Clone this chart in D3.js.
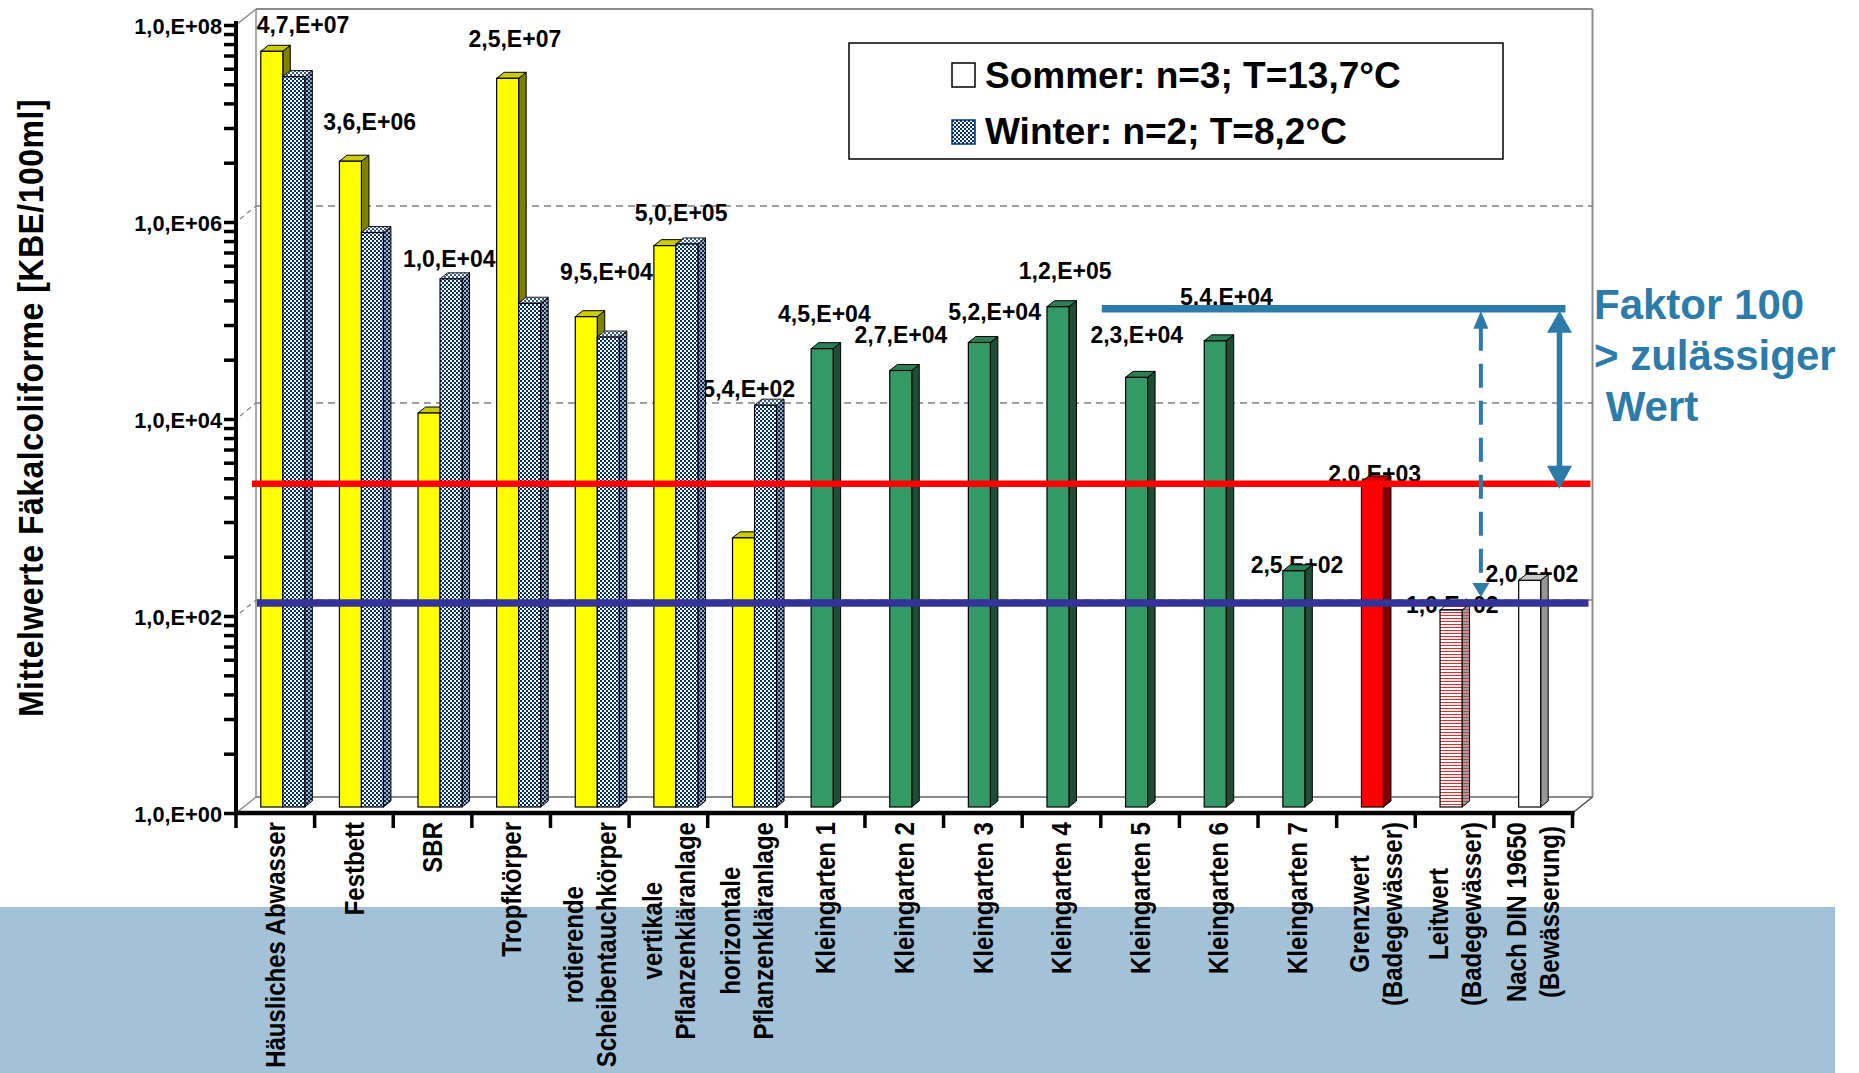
<!DOCTYPE html>
<html><head><meta charset="utf-8">
<script src="https://cdn.jsdelivr.net/npm/d3@7"></script>
<style>
body{margin:0;background:#fff;}
svg{display:block;font-family:"Liberation Sans",Arial,sans-serif;font-weight:bold;}
</style>
</head><body>
<svg id="c" width="1859" height="1073"></svg>
<script>
// ---------------- DATA ----------------
const categories = [
  "Häusliches Abwasser", "Festbett", "SBR", "Tropfkörper",
  "rotierende\nScheibentauchkörper", "vertikale\nPflanzenkläranlage", "horizontale\nPflanzenkläranlage",
  "Kleingarten 1", "Kleingarten 2", "Kleingarten 3", "Kleingarten 4", "Kleingarten 5", "Kleingarten 6", "Kleingarten 7",
  "Grenzwert\n(Badegewässer)", "Leitwert\n(Badegewässer)", "Nach DIN 19650\n(Bewässerung)"
];
const sommer = [4.7e7, 3.6e6, 1.0e4, 2.5e7, 9.5e4, 5.0e5, 5.4e2,
                4.5e4, 2.7e4, 5.2e4, 1.2e5, 2.3e4, 5.4e4, 2.5e2,
                2.0e3, 1.0e2, 2.0e2];
const winter = [2.6e7, 6.8e5, 2.3e5, 1.3e5, 5.9e4, 5.2e5, 1.2e4,
                null, null, null, null, null, null, null, null, null, null];
const seriesNames = ["Sommer: n=3; T=13,7°C", "Winter: n=2; T=8,2°C"];
const yTickValues = [1, 1e2, 1e4, 1e6, 1e8];
const yTickLabels = ["1,0,E+00", "1,0,E+02", "1,0,E+04", "1,0,E+06", "1,0,E+08"];
const grenzwert = 2.0e3;
const leitwert = 1.0e2;
const yTitle = "Mittelwerte Fäkalcoliforme [KBE/100ml]";
const noteLines = ["Faktor 100", "> zulässiger", " Wert"];

// ---------------- STYLE / LAYOUT ----------------
const pointStyle = ["yel","yel","yel","yel","yel","yel","yel",
                    "grn","grn","grn","grn","grn","grn","grn","red","stripe","white"];
const styles = {
  yel:   {front:"#FFFF00", top:"#CCCC00", side:"#808000"},
  grn:   {front:"#339966", top:"#2A7F55", side:"#1E4D34"},
  red:   {front:"#FF0000", top:"#CC0000", side:"#800000"},
  stripe:{front:"url(#stripe)", top:"url(#stripe)", side:"url(#stripeSide)"},
  white: {front:"#FFFFFF", top:"#C8C8C8", side:"#969696"},
  chk:   {front:"url(#chk)", top:"url(#chk)", side:"url(#chk)"}
};
// label nudges (px) relative to the generic anchor
const labelNudge = [[20,7],[8,-6],[9,13],[-4,-6],[9,-12],[5,2],[-6,17],
                    [-9,-2],[-11,-3],[4,3],[-4,-3],[-11,-9],[0,-11],[-8,27],[-9,25],[-10,28],[-9,27]];

const W = 1859, H = 1073;
const X0 = 236, X1 = 1572.5, YB = 813, YT = 25;
const DX = 20, DY = 16;        // depth of the floor
const BX = 7.5, BY = 6;        // bar front-plane offset and bar depth
const blue = "#2B7BAB";
const navy = "#00307A";

const svg = d3.select("#c");
const defs = svg.append("defs");
const chk = defs.append("pattern").attr("id","chk").attr("width",4).attr("height",4).attr("patternUnits","userSpaceOnUse");
chk.append("rect").attr("width",4).attr("height",4).attr("fill","#fff");
chk.append("rect").attr("width",2).attr("height",2).attr("fill",navy);
chk.append("rect").attr("x",2).attr("y",2).attr("width",2).attr("height",2).attr("fill",navy);
const st = defs.append("pattern").attr("id","stripe").attr("width",4).attr("height",3).attr("patternUnits","userSpaceOnUse");
st.append("rect").attr("width",4).attr("height",3).attr("fill","#fff");
st.append("rect").attr("width",4).attr("height",1).attr("fill","#FF2020");
const st2 = defs.append("pattern").attr("id","stripeSide").attr("width",4).attr("height",3).attr("patternUnits","userSpaceOnUse");
st2.append("rect").attr("width",4).attr("height",3).attr("fill","#A0A0A0");
st2.append("rect").attr("width",4).attr("height",1).attr("fill","#C04040");

// background band
svg.append("rect").attr("x",0).attr("y",907).attr("width",1835).attr("height",H-907).attr("fill","#A3C1D7");

// scales
const x = d3.scaleBand().domain(categories).range([X0, X1]).padding(0);
const xs = d3.scaleBand().domain(["S","W"]).range([0, x.bandwidth()]).paddingInner(0).paddingOuter(0.786);
const y = d3.scaleLog().domain([1, 1e8]).range([YB, YT]);
const yBar = v => y(v) - BY;
const yBack = v => y(v) - DY;

// ---------------- WALLS / GRID ----------------
const wall = svg.append("g").attr("fill","none");
const grey = "#8C8C8C";
wall.append("line").attr("x1",X0+DX).attr("x2",X1+DX).attr("y1",yBack(1e8)).attr("y2",yBack(1e8)).attr("stroke",grey).attr("stroke-width",2);
wall.append("line").attr("x1",X0+DX).attr("x2",X0+DX).attr("y1",yBack(1e8)).attr("y2",yBack(1)).attr("stroke",grey).attr("stroke-width",1.5);
wall.append("line").attr("x1",X1+DX).attr("x2",X1+DX).attr("y1",yBack(1e8)).attr("y2",yBack(1)).attr("stroke",grey).attr("stroke-width",2);
wall.append("line").attr("x1",X0+DX).attr("x2",X1+DX).attr("y1",yBack(1)).attr("y2",yBack(1)).attr("stroke",grey).attr("stroke-width",2);
wall.append("line").attr("x1",X0).attr("y1",y(1e8)).attr("x2",X0+DX).attr("y2",yBack(1e8)).attr("stroke",grey).attr("stroke-width",1.5);
wall.append("line").attr("x1",X0).attr("y1",y(1)).attr("x2",X0+DX).attr("y2",yBack(1)).attr("stroke",grey).attr("stroke-width",1.5);
wall.append("line").attr("x1",X1).attr("y1",y(1)).attr("x2",X1+DX).attr("y2",yBack(1)).attr("stroke","#444").attr("stroke-width",1.5);
[1e2,1e4,1e6].forEach(v=>{
  wall.append("line").attr("x1",X0+DX).attr("x2",X1+DX).attr("y1",yBack(v)).attr("y2",yBack(v))
    .attr("stroke","#808080").attr("stroke-width",1.5).attr("stroke-dasharray","7,5");
  wall.append("line").attr("x1",X0+4).attr("y1",y(v)-3).attr("x2",X0+DX).attr("y2",yBack(v))
    .attr("stroke","#808080").attr("stroke-width",1.2).attr("stroke-dasharray","5,4");
});

// ---------------- helpers ----------------
function fmt(v){
  const e = Math.floor(Math.log10(v) + 1e-9);
  const m = v / Math.pow(10, e);
  return m.toFixed(1).replace(".", ",") + ",E+" + String(e).padStart(2, "0");
}
function stext(parent, tx, ty, str, size, sx, anchor, base){
  return parent.append("text")
    .attr("transform", `translate(${tx},${ty}) scale(${sx},1)`)
    .attr("font-size", size).attr("text-anchor", anchor||"start")
    .attr("dominant-baseline", base||"auto").text(str);
}
function bar3d(g, bx, w, v, sty){
  const yt = yBar(v), yb = yBar(1);
  const side = [[bx+w,yt],[bx+w+BX,yt-BY],[bx+w+BX,yb-BY],[bx+w,yb]].join(" ");
  const top = [[bx,yt],[bx+BX,yt-BY],[bx+w+BX,yt-BY],[bx+w,yt]].join(" ");
  g.append("polygon").attr("points", side).attr("fill", sty.side).attr("stroke","#000").attr("stroke-width",1);
  if (sty === styles.chk) g.append("polygon").attr("points", side).attr("fill","#000").attr("opacity",0.3);
  g.append("polygon").attr("points", top).attr("fill", sty.top).attr("stroke","#000").attr("stroke-width",1);
  if (sty === styles.chk) g.append("polygon").attr("points", top).attr("fill","#fff").attr("opacity",0.2);
  g.append("rect").attr("x",bx).attr("y",yt).attr("width",w).attr("height",yb-yt)
    .attr("fill", sty.front).attr("stroke","#000").attr("stroke-width",1.2);
}

// ---------------- DATA LABELS (behind bars) ----------------
const lab = svg.append("g").attr("fill","#000");
categories.forEach((c,i)=>{
  const top = yBar(Math.max(sommer[i], winter[i] || 0));
  const ax = x(c) + 47 + labelNudge[i][0];
  const ay = top - 33 + labelNudge[i][1];
  stext(lab, ax, ay, fmt(sommer[i]), 23, 1.0, "middle", "central");
});

// ---------------- BARS ----------------
const bars = svg.append("g");
categories.forEach((c,i)=>{
  const bw = xs.bandwidth();
  bar3d(bars, x(c) + xs("S") + BX, bw, sommer[i], styles[pointStyle[i]]);
  if (winter[i] != null) bar3d(bars, x(c) + xs("W") + BX, bw, winter[i], styles.chk);
});

// ---------------- AXES ----------------
const minor = [];
[1,1e2,1e4,1e6].forEach(b=>{ for(let k=1;k<=10;k++) minor.push(b*k*k); });
const tickVals = Array.from(new Set(minor));
const yAxis = d3.axisLeft(y).tickValues(tickVals).tickSize(12).tickSizeOuter(0).tickFormat(()=> "");
const ga = svg.append("g").attr("transform",`translate(${X0},0)`).call(yAxis);
ga.select(".domain").attr("stroke","#000").attr("stroke-width",4).attr("d",`M0,${YT-4}V${YB+2}`);
ga.selectAll(".tick line").attr("stroke","#000").attr("stroke-width",3.5);
yTickValues.forEach((v,i)=>{
  stext(svg, X0-14, y(v)+1, yTickLabels[i], 22, 0.99, "end", "central");
});
// x axis
svg.append("line").attr("x1",X0-2).attr("x2",X1+2).attr("y1",YB).attr("y2",YB).attr("stroke","#000").attr("stroke-width",4.5);
const bounds = categories.map(c=>x(c)).concat([X1]);
svg.append("g").selectAll("line").data(bounds).join("line")
  .attr("x1",d=>d).attr("x2",d=>d).attr("y1",YB).attr("y2",YB+15).attr("stroke","#000").attr("stroke-width",3.5);

// category labels
const cl = svg.append("g").attr("fill","#000");
categories.forEach(c=>{
  const lines = c.split("\n");
  const cx = x(c) + x.bandwidth()/2;
  const offs = lines.map((ln,j)=> (j - (lines.length-1)/2) * 33);
  const texts = lines.map((ln,j)=> cl.append("text").attr("font-size",24)
      .attr("text-anchor","middle").attr("dominant-baseline","central").text(ln));
  const L = d3.max(texts, t=>t.node().getComputedTextLength());
  const cy = 822 + L/2;
  texts.forEach((t,j)=> t.attr("transform",`translate(${cx+offs[j]},${cy}) scale(1.17,1) rotate(-90)`));
});

// y title
svg.append("text").attr("font-size",32).attr("text-anchor","middle").attr("dominant-baseline","central")
  .attr("letter-spacing",0.5)
  .attr("transform","translate(30,408) scale(1.12,1) rotate(-90)").text(yTitle);

// ---------------- THRESHOLD LINES ----------------
const yRed = yBar(grenzwert) + 2, yBlue = yBack(leitwert) + 3;
svg.append("line").attr("x1",252).attr("x2",X1+DX-2).attr("y1",yRed).attr("y2",yRed).attr("stroke","#FF0000").attr("stroke-width",6.5);
svg.append("line").attr("x1",257).attr("x2",X1+DX-4).attr("y1",yBlue).attr("y2",yBlue).attr("stroke","#333399").attr("stroke-width",7.5);

// ---------------- FAKTOR ANNOTATION ----------------
const kMax = d3.max(sommer.slice(7,14));
const yF = yBar(kMax) + 2;
const xSolid = x(categories[16]) + x.bandwidth() - 13;
const xDash = x(categories[15]) + x.bandwidth() - 13;
const ann = svg.append("g");
ann.append("line").attr("x1", x(categories[11]) + 1).attr("x2", xSolid + 6).attr("y1",yF).attr("y2",yF)
  .attr("stroke",blue).attr("stroke-width",7.5);
const sTop = yF + 2, sBot = yRed + 5;
ann.append("line").attr("x1",xSolid).attr("x2",xSolid).attr("y1",sTop+18).attr("y2",sBot-18).attr("stroke",blue).attr("stroke-width",5.5);
ann.append("polygon").attr("points",[[xSolid,sTop],[xSolid-12.5,sTop+22],[xSolid+12.5,sTop+22]].join(" ")).attr("fill",blue);
ann.append("polygon").attr("points",[[xSolid,sBot],[xSolid-12.5,sBot-23],[xSolid+12.5,sBot-23]].join(" ")).attr("fill",blue);
const dTop = yF + 2, dBot = yBlue - 6;
ann.append("line").attr("x1",xDash).attr("x2",xDash).attr("y1",dTop+16).attr("y2",dBot-12).attr("stroke",blue)
  .attr("stroke-width",4).attr("stroke-dasharray","24,13");
ann.append("polygon").attr("points",[[xDash,dTop],[xDash-7.5,dTop+18],[xDash+7.5,dTop+18]].join(" ")).attr("fill",blue);
ann.append("polygon").attr("points",[[xDash,dBot],[xDash-8.5,dBot-14],[xDash+8.5,dBot-14]].join(" ")).attr("fill",blue);
noteLines.forEach((t,i)=>{
  svg.append("text").attr("x",1594).attr("y",319 + i*51).attr("font-size",42).attr("fill",blue)
    .style("white-space","pre").text(t);
});

// ---------------- LEGEND ----------------
const lg = svg.append("g");
lg.append("rect").attr("x",849).attr("y",43).attr("width",654).attr("height",116).attr("fill","#fff").attr("stroke","#000").attr("stroke-width",1.5);
lg.append("rect").attr("x",952).attr("y",63).attr("width",23).attr("height",24).attr("fill","#fff").attr("stroke","#000").attr("stroke-width",1.5);
lg.append("rect").attr("x",952).attr("y",120).attr("width",23).attr("height",24).attr("fill","url(#chk)").attr("stroke",navy).attr("stroke-width",1.5);
stext(lg, 985, 88, seriesNames[0], 37, 1.0, "start", "auto");
stext(lg, 985, 144, seriesNames[1], 37, 1.0, "start", "auto");
</script>
</body></html>
